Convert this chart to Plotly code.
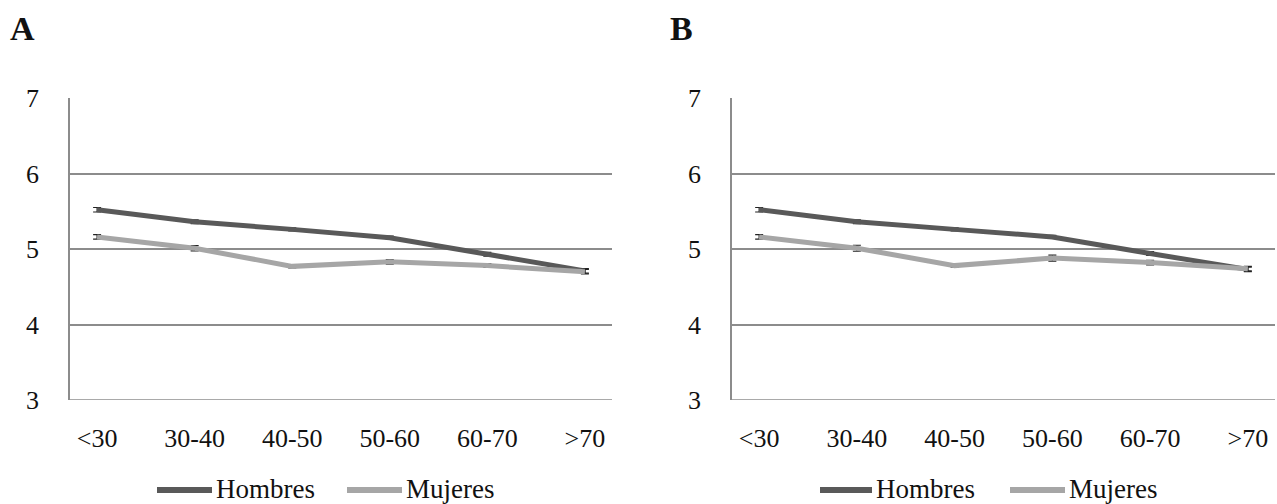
import plotly.graph_objects as go

categories = ["<30", "30-40", "40-50", "50-60", "60-70", ">70"]
hombres_a = [5.52, 5.36, 5.26, 5.15, 4.93, 4.71]
mujeres_a = [5.16, 5.01, 4.77, 4.83, 4.78, 4.70]
hombres_b = [5.52, 5.36, 5.26, 5.16, 4.94, 4.73]
mujeres_b = [5.16, 5.01, 4.78, 4.88, 4.82, 4.74]
err_h_a = [0.03, 0.025, 0.02, 0.02, 0.025, 0.03]
err_m_a = [0.03, 0.035, 0.02, 0.03, 0.025, 0.03]
err_h_b = [0.03, 0.025, 0.02, 0.02, 0.025, 0.03]
err_m_b = [0.03, 0.04, 0.02, 0.04, 0.03, 0.03]
yticks = [3, 4, 5, 6, 7]
series_names = ["Hombres", "Mujeres"]

C_H = "#595959"
C_M = "#A6A6A6"
FONT = "Liberation Serif"

fig = go.Figure()

def add(x, y, e, name, color, xa, ya):
    fig.add_trace(go.Scatter(
        x=x, y=y, name=name, mode="lines",
        line=dict(color=color, width=5),
        error_y=dict(type="data", array=e, visible=True, color="#222222", thickness=1.2, width=4),
        xaxis=xa, yaxis=ya, showlegend=False,
    ))

add(categories, hombres_a, err_h_a, series_names[0], C_H, "x", "y")
add(categories, mujeres_a, err_m_a, series_names[1], C_M, "x", "y")
add(categories, hombres_b, err_h_b, series_names[0], C_H, "x2", "y2")
add(categories, mujeres_b, err_m_b, series_names[1], C_M, "x2", "y2")

W, H = 1277, 504
xdomA = [70 / W, 612 / W]
xdomB = [732 / W, 1275 / W]
ydom = [(H - 400) / H, (H - 98) / H]

xcommon = dict(showgrid=False, showline=False, zeroline=False, ticks="",
               tickfont=dict(family=FONT, size=26, color="#111111"),
               ticklabelstandoff=20, fixedrange=True, automargin=False)
ycommon = dict(range=[3, 7], tickvals=yticks, showgrid=True, gridcolor="#8c8c8c", gridwidth=1.5,
               showline=True, linecolor="#8c8c8c", linewidth=1.5, zeroline=False, ticks="",
               tickfont=dict(family=FONT, size=26, color="#111111"),
               ticklabelstandoff=24, fixedrange=True, automargin=False)

annotations = [
    dict(text="<b>A</b>", x=8 / W, y=(H - 28) / H, xref="paper", yref="paper",
         xanchor="left", yanchor="middle", showarrow=False,
         font=dict(family=FONT, size=34, color="#111111")),
    dict(text="<b>B</b>", x=668 / W, y=(H - 28) / H, xref="paper", yref="paper",
         xanchor="left", yanchor="middle", showarrow=False,
         font=dict(family=FONT, size=34, color="#111111")),
]
shapes = []

# legend (drawn as chart chrome): sample line + label for each panel
legend_layout = [
    # (sample x0, sample x1, text x) in pixels, per series, per panel
    [(157, 212, 214), (347, 402, 404)],
    [(820, 872, 874), (1010, 1065, 1067)],
]
LEG_Y = 490
for panel in legend_layout:
    for (x0, x1, tx), name, color in zip(panel, series_names, [C_H, C_M]):
        shapes.append(dict(type="line", xref="paper", yref="paper",
                           x0=x0 / W, x1=x1 / W, y0=(H - LEG_Y) / H, y1=(H - LEG_Y) / H,
                           line=dict(color=color, width=6)))
        annotations.append(dict(text=name, x=tx / W, y=(H - LEG_Y + 1) / H, xref="paper", yref="paper",
                                xanchor="left", yanchor="middle", showarrow=False,
                                font=dict(family=FONT, size=27, color="#111111")))

for xr, yr in (("x domain", "y"), ("x2 domain", "y2")):
    shapes.append(dict(type="line", xref=xr, yref=yr, x0=0, x1=1, y0=3, y1=3,
                       line=dict(color="#8c8c8c", width=1.5), layer="below"))

fig.update_layout(
    width=W, height=H,
    margin=dict(l=0, r=0, t=0, b=0, pad=0, autoexpand=False),
    paper_bgcolor="white", plot_bgcolor="white",
    showlegend=False,
    xaxis=dict(domain=xdomA, anchor="y", **xcommon),
    yaxis=dict(domain=ydom, anchor="x", **ycommon),
    xaxis2=dict(domain=xdomB, anchor="y2", **xcommon),
    yaxis2=dict(domain=ydom, anchor="x2", **ycommon),
    annotations=annotations,
    shapes=shapes,
)

fig.write_html("out.html")
